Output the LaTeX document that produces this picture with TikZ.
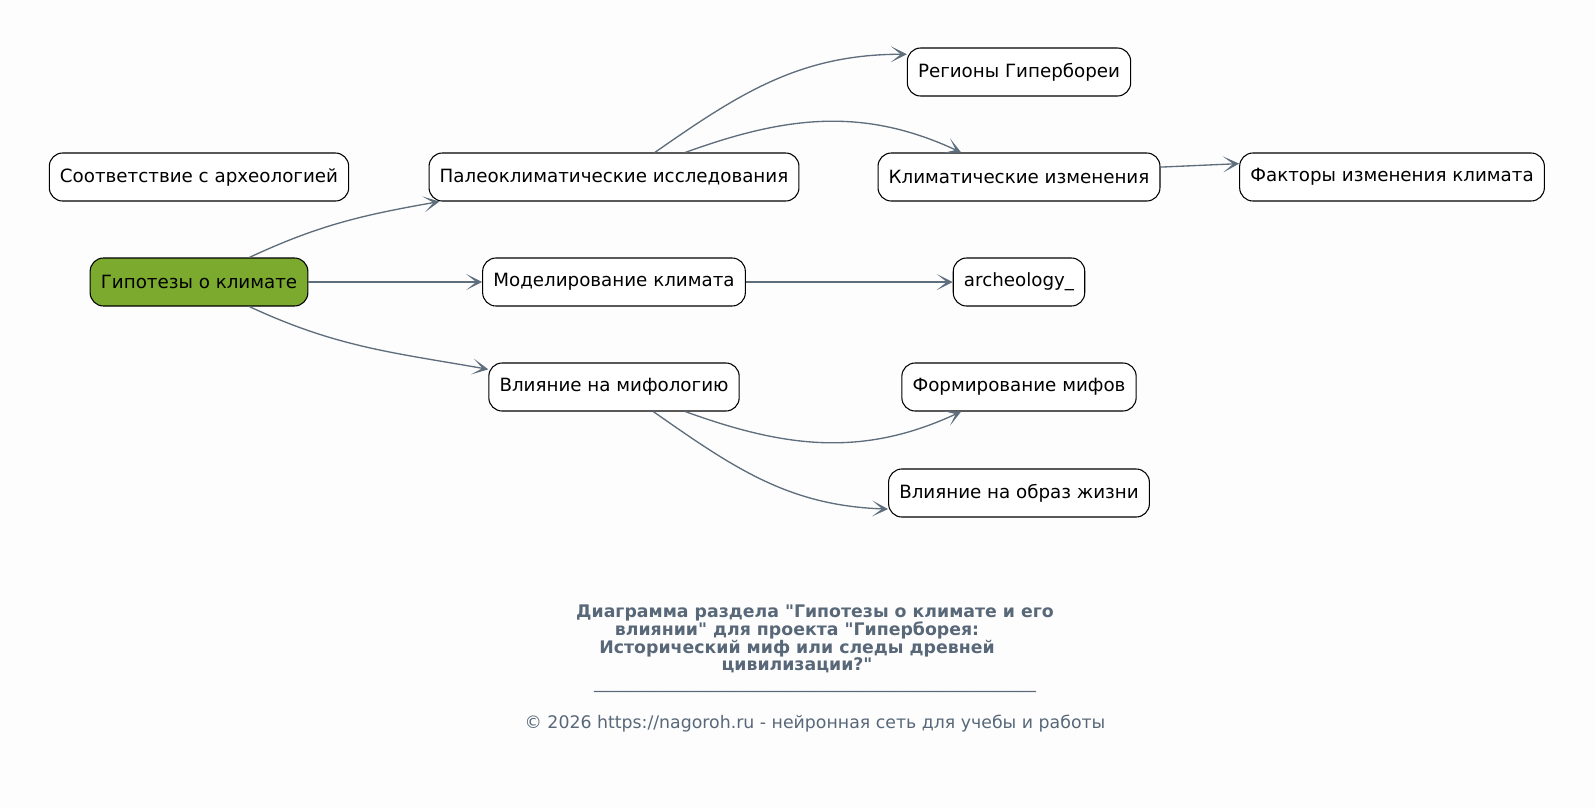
\documentclass[tikz,border=0pt]{standalone}
\usepackage{fontspec}
\setmainfont{DejaVu Sans}
\usepackage{tikz}
\usetikzlibrary{arrows.meta}
\definecolor{rootgreen}{HTML}{7BAA2F}
\definecolor{edgegray}{HTML}{5F6E7D}
\definecolor{titlegray}{HTML}{586879}
\definecolor{paper}{HTML}{FDFDFD}
\tikzstyle{topic} = [rectangle, draw, line width=0.8pt, rounded corners=10pt, fill=white, align=center, minimum height=36pt, inner xsep=8pt, font=\fontsize{13.7}{17}\selectfont]
\tikzstyle{roottopic} = [topic, fill=rootgreen]
\tikzstyle{arrow} = [draw, edgegray, line width=1pt, -{Stealth[length=12pt, width=12pt, inset=7.5pt]}]
\tikzstyle{caption} = [text=titlegray, inner sep=0pt, align=center]
\newcommand{\usixrow}{\_\_\_\_\_\_}
\newcommand{\tailgap}{\hspace*{27pt}\mbox{}}

\begin{document}
\begin{tikzpicture}[x=0.75pt, y=0.75pt]
    \useasboundingbox[fill=paper] (0, 0) rectangle (1595, -808);

    % left column
    \node[topic] at (199, -177) (archmatch) {Соответствие с археологией};
    \node[roottopic] at (199, -282) (hyp) {Гипотезы о климате};

    % middle column
    \node[topic] at (614, -177) (paleo) {Палеоклиматические исследования};
    \node[topic] at (614, -282) (model) {Моделирование климата};
    \node[topic] at (614, -387) (myth) {Влияние на мифологию};

    % right column
    \node[topic] at (1019, -72) (regions) {Регионы Гипербореи};
    \node[topic] at (1019, -177) (change) {Климатические изменения};
    \node[topic] at (1019, -282) (arch) {archeology\_};
    \node[topic] at (1019, -387) (mythform) {Формирование мифов};
    \node[topic] at (1019, -493) (life) {Влияние на образ жизни};
    \node[topic] at (1392, -177) (factors) {Факторы изменения климата};

    % links
    \path[arrow] (hyp.26) to [out=25, in=190] (paleo.188);
    \path[arrow] (hyp.east) to (model.west);
    \path[arrow] (hyp.-26) to [out=-25, in=170] (myth.172);

    \path[arrow] (paleo.31) to [out=35, in=180] (regions.171);
    \path[arrow] (paleo.19) to [out=20, in=155] (change.157);
    \path[arrow] (change.4) to (factors.175);
    \path[arrow] (model.east) to (arch.west);
    \path[arrow] (myth.-19) to [out=-20, in=205] (mythform.203);
    \path[arrow] (myth.-32) to [out=-35, in=178] (life.187);

    % caption
    \node[caption, font=\fontsize{13}{13.3}\selectfont\bfseries] at (815, -639) (title) {Диаграмма раздела \textquotedbl Гипотезы о климате и его\\влиянии\textquotedbl{} для проекта \textquotedbl Гиперборея:\tailgap\\Исторический миф или следы древней\tailgap\\цивилизации?\textquotedbl\tailgap};
    \node[caption, font=\fontsize{13}{14}\selectfont, anchor=base] at (815, -688) (rule) {\usixrow\usixrow\usixrow\usixrow\usixrow\usixrow\usixrow\usixrow\_\_\_};
    \node[caption, font=\fontsize{13}{14}\selectfont, anchor=base] at (815, -728) (copy) {© 2026 https://nagoroh.ru - нейронная сеть для учебы и работы};
\end{tikzpicture}
\end{document}
